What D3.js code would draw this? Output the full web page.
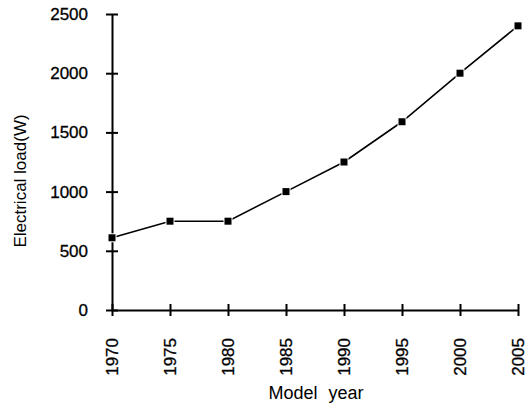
<!DOCTYPE html>
<html>
<head>
<meta charset="utf-8">
<script src="https://cdn.jsdelivr.net/npm/d3@7"></script>
<style>
  body { margin: 0; background: #fff; }
  text { font-family: "Liberation Sans", Arial, sans-serif; fill: #000; }
</style>
</head>
<body>
<div id="chart"></div>
<script>
(function() {
    // Data
    var years = [1970, 1975, 1980, 1985, 1990, 1995, 2000, 2005];
    var loads = [610, 750, 750, 1000, 1250, 1590, 2000, 2400];
    var yTicks = [0, 500, 1000, 1500, 2000, 2500];

    var data = years.map(function(y, i) { return {year: y, load: loads[i]}; });

    // Dimensions
    var W = 529, H = 407;
    var margin = {top: 14, right: 11, bottom: 97, left: 112},
        width = W - margin.left - margin.right,
        height = H - margin.top - margin.bottom;

    var x = d3.scaleLinear().domain([1970, 2005]).range([0, width]);
    var y = d3.scaleLinear().domain([0, 2500]).range([height, 0]);

    var svg = d3.select("#chart").append("svg")
        .attr("width", W)
        .attr("height", H)
        .append("g")
        .attr("transform", "translate(" + margin.left + "," + margin.top + ")");

    // Y axis
    var yAxis = svg.append("g")
        .call(d3.axisLeft(y).tickValues(yTicks).tickSize(0).tickPadding(24).tickFormat(d3.format("d")));
    yAxis.selectAll("text").attr("font-size", "17px").attr("stroke", "#000").attr("stroke-width", 0.3);
    yAxis.select(".domain").attr("stroke", "#000").attr("stroke-width", 2);
    yAxis.selectAll(".tick").append("line")
        .attr("x1", -6).attr("x2", 6)
        .attr("stroke", "#000").attr("stroke-width", 2);

    // X axis
    var xAxis = svg.append("g")
        .attr("transform", "translate(0," + height + ")")
        .call(d3.axisBottom(x).tickValues(years).tickSize(0).tickFormat(d3.format("d")));
    xAxis.select(".domain").attr("stroke", "#000").attr("stroke-width", 2);
    xAxis.selectAll(".tick").append("line")
        .attr("y1", -6).attr("y2", 6)
        .attr("stroke", "#000").attr("stroke-width", 2);
    xAxis.selectAll("text")
        .attr("font-size", "17px")
        .attr("stroke", "#000").attr("stroke-width", 0.3)
        .attr("text-anchor", "end")
        .attr("transform", "rotate(-90)")
        .attr("x", -28)
        .attr("y", 0)
        .attr("dy", "0.35em");

    // Line
    var valueline = d3.line()
        .x(function(d) { return x(d.year); })
        .y(function(d) { return y(d.load); });

    svg.append("path")
        .datum(data)
        .attr("fill", "none")
        .attr("stroke", "#000")
        .attr("stroke-width", 1.6)
        .attr("d", valueline);

    // Square markers
    svg.selectAll(".marker")
        .data(data)
        .enter().append("rect")
        .attr("class", "marker")
        .attr("x", function(d) { return x(d.year) - 3.5; })
        .attr("y", function(d) { return y(d.load) - 3.5; })
        .attr("width", 7)
        .attr("height", 7)
        .attr("fill", "#000")
        .attr("stroke", "#fff")
        .attr("stroke-width", 2)
        .attr("paint-order", "stroke");

    // Axis titles
    svg.append("text")
        .attr("x", width / 2 + 1)
        .attr("y", height + 89)
        .attr("text-anchor", "middle")
        .attr("font-size", "18px")
        .attr("word-spacing", "6px")
        .text("Model year");

    svg.append("text")
        .attr("transform", "rotate(-90)")
        .attr("x", -(181 - margin.top))
        .attr("y", -margin.left + 26)
        .attr("text-anchor", "middle")
        .attr("font-size", "17px")
        .text("Electrical load(W)");
})();
</script>
</body>
</html>
